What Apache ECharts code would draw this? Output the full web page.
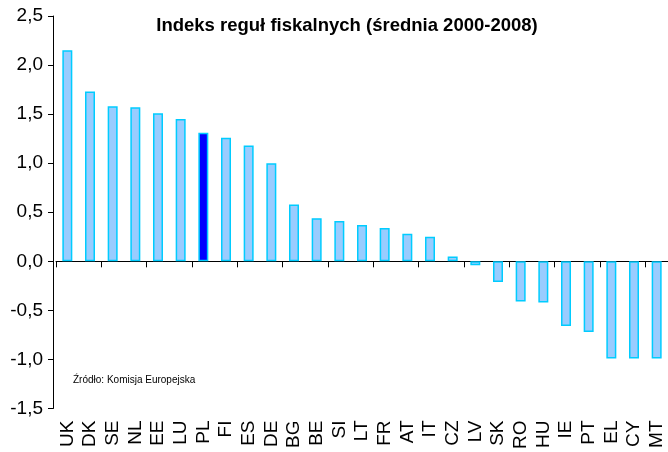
<html lang="pl">
<head>
    <meta charset="UTF-8">
    <title>Indeks reguł fiskalnych</title>
    <style>
        html, body {
            margin: 0;
            width: 100%;
            height: 100%;
            background: #ffffff;
            overflow: hidden;
        }

        #container {
            width: 668px;
            height: 452px;
        }
    </style>
</head>
<body>
<div id="container"></div>
<script type="text/javascript" src="https://cdn.jsdelivr.net/npm/echarts@6/dist/echarts.min.js"></script>
<script>
    // kraje UE
    var countries = ['UK', 'DK', 'SE', 'NL', 'EE', 'LU', 'PL', 'FI', 'ES', 'DE', 'BG', 'BE', 'SI', 'LT',
        'FR', 'AT', 'IT', 'CZ', 'LV', 'SK', 'RO', 'HU', 'IE', 'PT', 'EL', 'CY', 'MT'];
    // indeks reguł fiskalnych, średnia 2000-2008
    var values = [2.15, 1.73, 1.58, 1.57, 1.51, 1.45, 1.31, 1.26, 1.18, 1.00, 0.58, 0.44, 0.41, 0.37,
        0.34, 0.28, 0.25, 0.05, -0.04, -0.21, -0.41, -0.42, -0.66, -0.72, -0.99, -0.99, -0.99];
    var highlight = 'PL';

    var barData = countries.map(function (c, i) {
        if (c === highlight) {
            return {value: values[i], itemStyle: {color: '#0000ff'}};
        }
        return values[i];
    });

    var font = 'Liberation Sans, Arial, sans-serif';
    var myChart = echarts.init(document.getElementById('container'));
    var option = {
        animation: false,
        title: {
            text: 'Indeks reguł fiskalnych (średnia 2000-2008)',
            left: 342,
            textAlign: 'center',
            top: 11,
            textStyle: {fontFamily: font, fontSize: 18.5, fontWeight: 'bold', color: '#000'}
        },
        grid: {left: 56, right: 0, top: 16, bottom: 43},
        xAxis: [
            {
                type: 'category',
                data: countries,
                axisLine: {onZero: true, lineStyle: {color: '#000', width: 1}},
                axisTick: {show: true, length: 6, lineStyle: {color: '#000'}},
                axisLabel: {show: false}
            },
            {
                type: 'category',
                data: countries,
                position: 'bottom',
                axisLine: {show: false, onZero: false},
                axisTick: {show: false},
                axisLabel: {
                    rotate: 90,
                    margin: 12,
                    interval: 0,
                    fontFamily: font,
                    fontSize: 19,
                    color: '#000'
                }
            }
        ],
        yAxis: {
            type: 'value',
            min: -1.5,
            max: 2.5,
            interval: 0.5,
            offset: 3,
            splitLine: {show: false},
            axisLine: {show: true, lineStyle: {color: '#000'}},
            axisTick: {show: true, length: 5, lineStyle: {color: '#000'}},
            axisLabel: {
                margin: 10,
                fontFamily: font,
                fontSize: 19,
                color: '#000',
                formatter: function (v) {
                    return v.toFixed(1).replace('.', ',');
                }
            }
        },
        series: [
            {
                type: 'bar',
                xAxisIndex: 0,
                data: barData,
                barWidth: 10,
                itemStyle: {
                    color: '#99ccff',
                    borderColor: '#00ccff',
                    borderWidth: 1.5
                }
            }
        ],
        graphic: [
            {
                type: 'text',
                left: 73,
                top: 375,
                style: {
                    text: 'Źródło: Komisja Europejska',
                    font: '10px ' + font,
                    fill: '#000'
                }
            }
        ]
    };
    myChart.setOption(option);
</script>
</body>
</html>
